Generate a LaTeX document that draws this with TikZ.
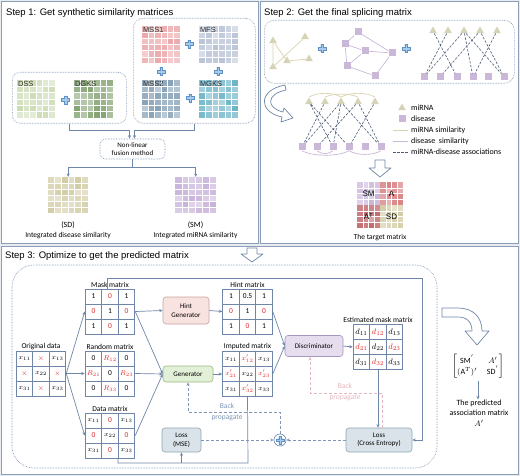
\documentclass[tikz,border=0pt]{standalone}
\usepackage{amsmath}
\usepackage{fontspec}
\setmainfont{Carlito}
\newfontfamily\arialf{Liberation Sans}
\usetikzlibrary{arrows.meta,calc,shapes.geometric,matrix}
\definecolor{panelc}{HTML}{8C9DB8}
\definecolor{bgc}{HTML}{E8EBF0}
\definecolor{lnc}{HTML}{6F86A8}
\definecolor{redc}{HTML}{E02828}
\definecolor{tric}{HTML}{D6D2B6}
\definecolor{sqc}{HTML}{CBB8D9}
\definecolor{tanl}{HTML}{D9D3B0}
\definecolor{purl}{HTML}{C9B8DA}
\definecolor{dashc}{HTML}{4A5A75}
\definecolor{plusf}{HTML}{A9CBEA}
\definecolor{pluse}{HTML}{5E92C6}
\definecolor{bpblue}{HTML}{7F96B8}
\definecolor{bppink}{HTML}{E6B7C0}
\definecolor{hintf}{HTML}{F9E3E1}
\definecolor{hinte}{HTML}{C8A2A2}
\definecolor{genf}{HTML}{E3F0D8}
\definecolor{gene}{HTML}{9CB884}
\definecolor{disf}{HTML}{E6DEEE}
\definecolor{dise}{HTML}{A597BD}
\definecolor{lossf}{HTML}{D9E3E9}
\definecolor{losse}{HTML}{8FA6B5}
\definecolor{hmssa}{HTML}{EBA5A8}
\definecolor{hmfs}{HTML}{B9C3D6}
\definecolor{hmssb}{HTML}{85A0B6}
\definecolor{hmgks}{HTML}{6AB3C7}
\definecolor{hdss}{HTML}{CCDCB4}
\definecolor{hdgks}{HTML}{85A474}
\definecolor{hsd}{HTML}{D2CCA4}
\definecolor{hsm}{HTML}{C8B3DA}
\definecolor{ha}{HTML}{DA8587}
\definecolor{hat}{HTML}{BF6167}
\newcommand{\heatcells}[7]{%
  \pgfmathsetseed{#6}%
  \foreach \hi in {1,...,#7}{%
    \foreach \hj in {1,...,#7}{%
      \pgfmathsetmacro{\hv}{int(55+rnd*45)}%
      \fill[#5!\hv!white] ({#1+(\hi-1)*#3/#7},{#2+(\hj-1)*#4/#7}) rectangle ++({#3/#7},{#4/#7});
    }%
  }%
  \foreach \hk in {1,...,#7}{%
    \draw[white, line width=0.4pt] ({#1+\hk*#3/#7},{#2}) -- ++(0,{#4});
    \draw[white, line width=0.4pt] ({#1},{#2+\hk*#4/#7}) -- ++({#3},0);
  }%
}
\newcommand{\plusg}[2]{\draw[fill=plusf,draw=pluse,line width=0.4pt,shift={(#1,#2)}] (-1.3,-4)--(1.3,-4)--(1.3,-1.3)--(4,-1.3)--(4,1.3)--(1.3,1.3)--(1.3,4)--(-1.3,4)--(-1.3,1.3)--(-4,1.3)--(-4,-1.3)--(-1.3,-1.3)--cycle;}
\tikzset{
 every node/.style={font=\fontsize{7}{8}\selectfont},
 ttl/.style={font=\arialf\fontsize{9.5}{11}\selectfont, anchor=west, inner sep=0},
 hlab/.style={font=\arialf\fontsize{7.5}{8}\selectfont, anchor=north west, inner sep=0.8pt, text=black!80},
 hbox/.style={inner sep=0, anchor=north west},
 dotbox/.style={draw=lnc, densely dotted, rounded corners=8pt, line width=0.6pt},
 ln/.style={draw=lnc, line width=0.7pt},
 arr/.style={ln, -{Stealth[length=3.5pt,width=3pt]}},
 tri/.style={regular polygon, regular polygon sides=3, fill=tric, inner sep=0, minimum size=9pt},
 sqn/.style={fill=sqc, inner sep=0, minimum size=7pt},
 tanedge/.style={draw=tanl, line width=0.7pt},
 puredge/.style={draw=purl, line width=0.7pt},
 asso/.style={draw=dashc, dash pattern=on 2.5pt off 1.5pt, line width=0.6pt},
 hollow/.style={draw=lnc, fill=white, line width=0.7pt, line join=round},
 proc/.style={rounded corners=3pt, line width=0.6pt, align=center, inner sep=0, font=\fontsize{7}{8.5}\selectfont},
 tab/.style={matrix of nodes, nodes={draw=lnc, line width=0.6pt, minimum width=16.5pt, minimum height=15pt, inner sep=0, anchor=center, font=\fontsize{7.5}{8}\selectfont}, column sep=-0.6pt, row sep=-0.6pt, inner sep=0},
 rd/.style={text=redc},
 tlab/.style={anchor=south, inner sep=1pt, font=\fontsize{7.5}{8}\selectfont},
 lgt/.style={anchor=west, inner sep=0, font=\fontsize{8}{9}\selectfont},
 bp/.style={draw=bpblue, dash pattern=on 3pt off 2pt, line width=0.7pt},
 pk/.style={draw=bppink, dash pattern=on 3pt off 2pt, line width=0.7pt},
 darr/.style={-{Stealth[length=3.5pt,width=3pt]}},
}
\begin{document}
\begin{tikzpicture}[x=1pt,y=-1pt]
\useasboundingbox (0,0) rectangle (520,476);
\fill[bgc] (0,0) rectangle (520,476);
\draw[panelc, fill=white, line width=0.8pt] (1.5,1.5) rectangle (258.5,243);
\draw[panelc, fill=white, line width=0.8pt] (260.5,1.5) rectangle (518.5,243);
\draw[panelc, fill=white, line width=0.8pt] (1.5,246) rectangle (518.5,474.5);

% ---------------- Step 1
\node[ttl] (t1) at (6,13) {Step 1: Get synthetic similarity matrices};
\node[dotbox, rounded corners=10pt, minimum width=122pt, minimum height=105pt, anchor=north west] (mbox) at (133,18) {};
\node[dotbox, minimum width=114pt, minimum height=51pt, anchor=north west] (dbox) at (12,72) {};

\node[hbox, minimum width=38pt, minimum height=37pt] (mss1) at (142,26) {};
\heatcells{142}{26}{38}{37}{hmssa}{11}{6}
\node[hlab] (mss1l) at (mss1.north west) {MSS1};
\node[hbox, minimum width=39pt, minimum height=37pt] (mfs) at (199,26) {};
\heatcells{199}{26}{39}{37}{hmfs}{23}{6}
\node[hlab] (mfsl) at (mfs.north west) {MFS};
\node[hbox, minimum width=38pt, minimum height=38pt] (mss2) at (142,80) {};
\heatcells{142}{80}{38}{38}{hmssb}{37}{6}
\node[hlab] (mss2l) at (mss2.north west) {MSS2};
\node[hbox, minimum width=39pt, minimum height=38pt] (mgks) at (199,80) {};
\heatcells{199}{80}{39}{38}{hmgks}{41}{6}
\node[hlab] (mgksl) at (mgks.north west) {MGKS};
\node[hbox, minimum width=38pt, minimum height=38pt] (dss) at (17,80) {};
\heatcells{17}{80}{38}{38}{hdss}{53}{6}
\node[hlab] (dssl) at (dss.north west) {DSS};
\node[hbox, minimum width=39pt, minimum height=38pt] (dgks) at (74,80) {};
\heatcells{74}{80}{39}{38}{hdgks}{67}{6}
\node[hlab] (dgksl) at (dgks.north west) {DGKS};
\plusg{189}{44}
\plusg{161}{71.5}
\plusg{218}{71.5}
\plusg{190}{98}
\plusg{65.5}{100}

\node[dotbox, rounded corners=5pt, minimum width=65pt, minimum height=20pt, align=center, inner sep=0, font=\fontsize{7}{8.5}\selectfont] (fus) at (132.5,149) {Non-linear\\fusion method};
\draw[arr] (dbox.south) |- ($(fus.north)+(-3,-8)$) -- ($(fus.north)+(-3,0)$);
\draw[arr] (mbox.south) |- ($(fus.north)+(2,-8)$) -- ($(fus.north)+(2,0)$);

\node[hbox, minimum width=40pt, minimum height=36pt] (sd) at (48,177) {};
\heatcells{48}{177}{40}{36}{hsd}{71}{6}
\node[hbox, minimum width=41pt, minimum height=36pt] (sm) at (175,177) {};
\heatcells{175}{177}{41}{36}{hsm}{83}{6}
\coordinate (fj) at (132.5,167);
\draw[ln] (fus.south) -- (fj);
\draw[arr] (fj) -| (sd.north);
\draw[arr] (fj) -| (sm.north);
\node[font=\fontsize{8}{9}\selectfont, inner sep=0] (sdl) at (68,225) {(SD)};
\node[inner sep=0, font=\fontsize{7.5}{8}\selectfont] (sdt) at (68,235.5) {Integrated disease similarity};
\node[font=\fontsize{8}{9}\selectfont, inner sep=0] (sml) at (195.5,225) {(SM)};
\node[inner sep=0, font=\fontsize{7.5}{8}\selectfont] (smt) at (195.5,235.5) {Integrated miRNA similarity};

% ---------------- Step 2
\node[ttl] (t2) at (264,13) {Step 2: Get the final splicing matrix};
\node[dotbox, rounded corners=10pt, minimum width=250pt, minimum height=63pt, anchor=north west] (gbox) at (264,20) {};
% miRNA graph
\node[tri] (g1) at (273,41) {};
\node[tri] (g2) at (305,37) {};
\node[tri] (g3) at (273,67) {};
\node[tri] (g4) at (287,61) {};
\node[tri] (g5) at (309,59) {};
\draw[tanedge] (g1) -- (g4) (g2) -- (g3) (g4) -- (g5) (g1) -- (g3);
\plusg{322}{48.5}
% disease graph
\node[sqn] (s1) at (358,32) {};
\node[sqn] (s2) at (345,44) {};
\node[sqn] (s3) at (365,51) {};
\node[sqn] (s4) at (392,53) {};
\node[sqn] (s5) at (347,66) {};
\node[sqn] (s6) at (375,76) {};
\draw[puredge] (s1) -- (s2) (s1) -- (s4) (s2) -- (s3) (s2) -- (s5) (s3) -- (s4) (s3) -- (s5) (s5) -- (s6) (s6) -- (s4);
\plusg{406}{48.5}
% association bipartite
\foreach \n/\xx in {1/433,2/448,3/464,4/480,5/497}{\node[tri] (u\n) at (\xx,31) {};}
\foreach \n/\xx in {1/424,2/440,3/457,4/473,5/488,6/504}{\node[sqn] (v\n) at (\xx,77) {};}
\draw[asso] (u1) -- (v3) (u2) -- (v1) (u3) -- (v1) (u3) -- (v6) (u3) -- (v4) (u4) -- (v2) (u4) -- (v6) (u5) -- (v4);
% curved hollow arrow
\draw[hollow] (285,85) .. controls (258,90) and (258,112) .. (282,117) -- (281,122) -- (293,118) -- (284,108) -- (283,112) .. controls (266,108) and (266,94) .. (286,90) -- cycle;
% combined graph
\foreach \n/\xx in {1/309,2/325,3/341,4/358,5/375}{\node[tri] (b\n) at (\xx,102) {};}
\foreach \n/\xx in {1/302,2/317,3/333,4/349,5/365,6/381}{\node[sqn] (c\n) at (\xx,147) {};}
\draw[tanedge] (b1.north) .. controls +(8,-5) and +(-8,-5) .. (b3.north);
\draw[tanedge] (b2.north) .. controls +(8,-4) and +(-8,-4) .. (b4.north);
\draw[tanedge] (b3.north) .. controls +(8,-5) and +(-8,-5) .. (b5.north);
\draw[puredge] (c1.south) .. controls +(10,6) and +(-10,6) .. (c4.south);
\draw[puredge] (c2.south) .. controls +(5,4) and +(-5,4) .. (c3.south);
\draw[puredge] (c4.south) .. controls +(8,5) and +(-8,5) .. (c6.south);
\draw[asso] (b1) -- (c4) (b2) -- (c1) (b3) -- (c1) (b3) -- (c3) (b3) -- (c6) (b4) -- (c2) (b4) -- (c6) (b5) -- (c4) (b1) -- (c3);
% legend
\node[tri] (lg1) at (402,108) {};
\node[lgt] (lg1t) at (411,108) {miRNA};
\node[sqn] (lg2) at (402,119) {};
\node[lgt] (lg2t) at (411,119) {disease};
\coordinate (lg3a) at (393,130); \coordinate (lg3b) at (408,130);
\draw[tanedge] (lg3a) -- (lg3b);
\node[lgt] (lg3t) at (411,130) {miRNA similarity};
\coordinate (lg4a) at (393,141); \coordinate (lg4b) at (408,141);
\draw[puredge] (lg4a) -- (lg4b);
\node[lgt] (lg4t) at (411,141) {disease\ \ similarity};
\coordinate (lg5a) at (393,152); \coordinate (lg5b) at (408,152);
\draw[asso] (lg5a) -- (lg5b);
\node[lgt] (lg5t) at (411,152) {miRNA-disease associations};
% down arrow and target matrix
\draw[hollow] (375,160) -- (385,160) -- (385,168) -- (391,168) -- (380,177) -- (369,168) -- (375,168) -- cycle;
\node[hbox, minimum width=46pt, minimum height=46pt] (tgt) at (357,182) {};
\heatcells{357}{182}{23}{23}{hsm}{91}{4}
\heatcells{380}{182}{23}{23}{ha}{93}{4}
\heatcells{357}{205}{23}{23}{hat}{97}{4}
\heatcells{380}{205}{23}{23}{hsd}{99}{4}
\node[font=\arialf\fontsize{8}{9}\selectfont, inner sep=0] (tq1) at (368.5,193.5) {SM};
\node[font=\arialf\fontsize{8}{9}\selectfont, inner sep=0] (tq2) at (391.5,193.5) {A};
\node[font=\arialf\fontsize{8}{9}\selectfont, inner sep=0] (tq3) at (368.5,216.5) {A\textsuperscript{T}};
\node[font=\arialf\fontsize{8}{9}\selectfont, inner sep=0] (tq4) at (391.5,216.5) {SD};
\node[inner sep=0, font=\fontsize{7.5}{8}\selectfont] (tgtl) at (380,238) {The target matrix};

% ---------------- Step 3
\node[ttl] (t3) at (5,256) {Step 3: Optimize to get the predicted matrix};
\draw[hollow] (247,248) -- (257,248) -- (257,254) -- (263,254) -- (252,262) -- (241,254) -- (247,254) -- cycle;
\draw[draw=lnc, densely dotted, line width=0.6pt, rounded corners=22pt] (12,265) rectangle (437,468);

\matrix (orig) [tab] at (41,373.5) {
 $x_{11}$ & |[rd]| $\times$ & $x_{13}$ \\
 |[rd]| $\times$ & $x_{22}$ & |[rd]| $\times$ \\
 $x_{31}$ & |[rd]| $\times$ & $x_{33}$ \\
};
\node[tlab] (origl) at (orig.north) {Original data};
\matrix (mask) [tab] at (110,311.5) {
 1 & |[rd]| 0 & 1 \\
 |[rd]| 0 & 1 & |[rd]| 0 \\
 1 & |[rd]| 0 & 1 \\
};
\node[tlab] (maskl) at (mask.north) {Mask matrix};
\matrix (rand) [tab] at (110,373.5) {
 0 & |[rd]| $R_{12}$ & 0 \\
 |[rd]| $R_{21}$ & 0 & |[rd]| $R_{23}$ \\
 0 & |[rd]| $R_{33}$ & 0 \\
};
\node[tlab] (randl) at (rand.north) {Random matrix};
\matrix (data) [tab] at (110,435.5) {
 $x_{11}$ & |[rd]| 0 & $x_{13}$ \\
 |[rd]| 0 & $x_{22}$ & |[rd]| 0 \\
 $x_{31}$ & |[rd]| 0 & $x_{33}$ \\
};
\node[tlab] (datal) at (data.north) {Data matrix};
\matrix (hint) [tab] at (247.5,311.5) {
 1 & 0.5 & 1 \\
 |[rd]| 0 & 1 & |[rd]| 0 \\
 1 & |[rd]| 0 & 1 \\
};
\node[tlab] (hintl) at (hint.north) {Hint matrix};
\matrix (imp) [tab] at (247.5,374) {
 $x_{11}$ & |[rd]| $x'_{12}$ & $x_{13}$ \\
 |[rd]| $x'_{21}$ & $x_{22}$ & |[rd]| $x'_{23}$ \\
 $x_{31}$ & |[rd]| $x'_{32}$ & $x_{33}$ \\
};
\node[tlab] (impl) at (imp.north) {Imputed matrix};
\matrix (est) [tab, nodes={font=\fontsize{8}{9}\selectfont}] at (378,347) {
 $d_{11}$ & |[rd]| $d_{12}$ & $d_{13}$ \\
 |[rd]| $d_{21}$ & $d_{22}$ & |[rd]| $d_{23}$ \\
 $d_{31}$ & |[rd]| $d_{32}$ & $d_{33}$ \\
};
\node[tlab] (estl) at (est.north) {Estimated mask matrix};

\node[proc, fill=hintf, draw=hinte, minimum width=46pt, minimum height=27pt] (hintg) at (186,310.5) {Hint\\Generator};
\node[proc, fill=genf, draw=gene, minimum width=50pt, minimum height=16pt] (gen) at (188,374) {Generator};
\node[proc, fill=disf, draw=dise, minimum width=58pt, minimum height=21pt] (disc) at (314,346) {Discriminator};
\node[proc, fill=lossf, draw=losse, minimum width=39pt, minimum height=24pt] (lossm) at (181.5,440) {Loss\\(MSE)};
\node[proc, fill=lossf, draw=losse, minimum width=66pt, minimum height=24pt] (lossc) at (379,440) {Loss\\(Cross Entropy)};
\node[circle, draw=lnc, line width=0.6pt, minimum size=12pt, inner sep=0] (pc) at (280,440) {};
\plusg{280}{440}

\draw[arr] (orig.east) -- (mask.west);
\draw[arr] (orig.east) -- (rand.west);
\draw[arr] (orig.east) -- (data.west);
\draw[arr] (mask.east) -- (hintg.west);
\draw[arr] (mask.east) -- (gen.west);
\draw[arr] (rand.east) -- (gen.west);
\draw[arr] (data.east) -- (gen.west);
\draw[arr] (hintg.east) -- (hint.west);
\draw[arr] (gen.east) -- (imp.west);
\draw[arr] (hint.east) -- (disc.west);
\draw[arr] (imp.east) -- (disc.west);
\draw[arr] (disc.east) -- (est.west);
\draw[arr] (est.south) -- (est.south |- lossc.north);
\coordinate (mk) at ($(mask.north)+(-3,0)$);
\coordinate (cr) at (422,278);
\draw[arr] (mk) |- (cr) |- (lossc.east);
\coordinate (dsb) at ($(data.south)+(8,0)$);
\coordinate (jb) at (248,463);
\draw[ln] (dsb) |- (jb) -- (imp.south);
\draw[arr] (lossm.south |- jb) -- (lossm.south);
\draw[bp, darr] (lossm.east) -- (pc.west);
\draw[bp, darr] (lossc.west) -- (pc.east);
\coordinate (bpj) at (188,412);
\draw[bp, darr] (pc.north) |- (bpj) -- (gen.south);
\node[text=bpblue, align=center, inner sep=0, font=\fontsize{7.5}{11}\selectfont] (bpl) at (227,412.5) {Back\\propagate};
\coordinate (pk1) at (382,393);
\coordinate (pk2) at (310,393);
\draw[pk, darr] (lossc.north -| pk1) -- (pk1) -- (pk2) -- (disc.south -| pk2);
\node[text=bppink, align=center, inner sep=0, font=\fontsize{7.5}{11}\selectfont] (pkl) at (345,392.5) {Back\\propagate};

% right side
\draw[hollow] (442,308) -- (458,308) .. controls (473,308) and (482,317) .. (482,331) -- (489,331) -- (477,345) -- (465,331) -- (472,331) .. controls (472,322) and (467,317) .. (458,317) -- (442,317) -- cycle;
\node[inner sep=0, font=\fontsize{8}{9}\selectfont] (pred) at (478,366) {$\begin{bmatrix}\mathrm{SM}^{'} & A'\\ (\mathrm{A}^{T})' & \mathrm{SD}^{'}\end{bmatrix}$};
\node[inner sep=0, align=center, font=\fontsize{8}{10.5}\selectfont] (predt) at (479,413) {The predicted\\association matrix\\$A'$};
\draw[ln, darr] (pred.south) ++(0,3) coordinate (pa) -- (pa |- predt.north);
\end{tikzpicture}
\end{document}
